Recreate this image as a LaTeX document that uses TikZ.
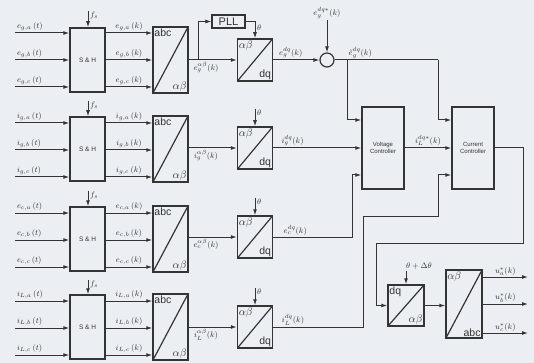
\documentclass[tikz,border=0pt]{standalone}
\usepackage{fontspec}
\setsansfont{Liberation Sans}
\usetikzlibrary{positioning,calc,arrows.meta}
\definecolor{paper}{RGB}{235,239,243}
\definecolor{ink}{RGB}{52,52,52}
\tikzset{
  sig/.style={draw=ink, line width=1pt, ->, >={Latex[length=6pt,width=4pt]}},
  wire/.style={draw=ink, line width=1pt},
  shbox/.style={draw=ink, line width=1.5pt, minimum width=35pt, minimum height=64pt, inner sep=0pt, text=ink, font=\fontsize{6.5}{7}\sffamily},
  conv/.style={draw=ink, line width=1.5pt, inner sep=0pt, minimum width=35pt,
    path picture={\draw[ink, line width=1.2pt] (path picture bounding box.south west) -- (path picture bounding box.north east);}},
  corner/.style={inner sep=2pt, text=ink, font=\fontsize{10.5}{12}\sffamily},
  lbl/.style={inner sep=1.5pt, text=ink, font=\fontsize{8.5}{10}\selectfont},
  ctrl/.style={draw=ink, line width=1.5pt, minimum width=42pt, minimum height=82pt, align=center, text=ink, font=\fontsize{6}{7.5}\sffamily},
}
\begin{document}
\begin{tikzpicture}[x=1pt,y=-1pt]
    \fill[paper] (0,0) rectangle (534,363);
    \useasboundingbox (0,0) rectangle (534,363);

    % grid voltage
    \node[shbox] (sh1) at (87.5,60) {S \& H};
    \node[conv, minimum height=66pt] (ab1) at (170.5,60) {};
    \node[corner, anchor=north west] at (ab1.north west) {abc};
    \node[corner, anchor=south east] at (ab1.south east) {$\alpha\beta$};
    \node[conv, minimum height=42pt] (dq1) at (255,60) {};
    \node[corner, anchor=north west] at (dq1.north west) {$\alpha\beta$};
    \node[corner, anchor=south east] at (dq1.south east) {dq};
    \coordinate (in1a) at (15,33);
    \coordinate (in1b) at (15,60);
    \coordinate (in1c) at (15,87);
    \coordinate (fs1) at (88,11);
    \draw[sig] (fs1) -- (fs1 |- sh1.north) node[lbl, pos=0.3, right] {$f_s$};
    \draw[sig] (in1a) -- (in1a -| sh1.west) node[lbl, pos=0, anchor=south west] {$e_{g,a}\,(t)$};
    \draw[sig] (in1b) -- (in1b -| sh1.west) node[lbl, pos=0, anchor=south west] {$e_{g,b}\,(t)$};
    \draw[sig] (in1c) -- (in1c -| sh1.west) node[lbl, pos=0, anchor=south west] {$e_{g,c}\,(t)$};
    \draw[sig] (sh1.east |- in1a) -- (ab1.west |- in1a) node[lbl, midway, above] {$e_{g,a}\,(k)$};
    \draw[sig] (sh1.east |- in1b) -- (ab1.west |- in1b) node[lbl, midway, above] {$e_{g,b}\,(k)$};
    \draw[sig] (sh1.east |- in1c) -- (ab1.west |- in1c) node[lbl, midway, above] {$e_{g,c}\,(k)$};
    \draw[sig] (ab1.east) -- (dq1.west) node[lbl, pos=0.36, below] {$e_g^{\alpha\beta}(k)$};
    \node[draw=ink, line width=1.2pt, minimum width=33pt, minimum height=13pt, inner sep=0pt, text=ink, font=\fontsize{11}{12}\sffamily] (pll) at (228.5,21.5) {PLL};
    \coordinate (br1) at (198,60);
    \draw[sig] (br1) |- (pll.west);
    \draw[sig] (pll.east) -| (dq1.north) node[lbl, pos=0.7, right] {$\theta$};
    \node[draw=ink, line width=1.2pt, circle, minimum size=14pt, inner sep=0pt] (sum) at (327,60) {};
    \node[lbl] (ref) at (327,13) {$e_g^{dq*}(k)$};
    \draw[sig] (ref) -- (sum);
    \draw[sig] (dq1.east) -- (sum.west) node[lbl, pos=0.38, above] {$e_g^{dq}(k)$};

    % grid current
    \node[shbox] (sh2) at (87.5,149) {S \& H};
    \node[conv, minimum height=66pt] (ab2) at (170.5,149) {};
    \node[corner, anchor=north west] at (ab2.north west) {abc};
    \node[corner, anchor=south east] at (ab2.south east) {$\alpha\beta$};
    \node[conv, minimum height=42pt] (dq2) at (255,148) {};
    \node[corner, anchor=north west] at (dq2.north west) {$\alpha\beta$};
    \node[corner, anchor=south east] at (dq2.south east) {dq};
    \coordinate (in2a) at (15,123);
    \coordinate (in2b) at (15,150);
    \coordinate (in2c) at (15,177);
    \coordinate (fs2) at (88,101);
    \draw[sig] (fs2) -- (fs2 |- sh2.north) node[lbl, pos=0.3, right] {$f_s$};
    \draw[sig] (in2a) -- (in2a -| sh2.west) node[lbl, pos=0, anchor=south west] {$i_{g,a}\,(t)$};
    \draw[sig] (in2b) -- (in2b -| sh2.west) node[lbl, pos=0, anchor=south west] {$i_{g,b}\,(t)$};
    \draw[sig] (in2c) -- (in2c -| sh2.west) node[lbl, pos=0, anchor=south west] {$i_{g,c}\,(t)$};
    \draw[sig] (sh2.east |- in2a) -- (ab2.west |- in2a) node[lbl, midway, above] {$i_{g,a}\,(k)$};
    \draw[sig] (sh2.east |- in2b) -- (ab2.west |- in2b) node[lbl, midway, above] {$i_{g,b}\,(k)$};
    \draw[sig] (sh2.east |- in2c) -- (ab2.west |- in2c) node[lbl, midway, above] {$i_{g,c}\,(k)$};
    \draw[sig] (ab2.east |- dq2.west) -- (dq2.west) node[lbl, pos=0.36, below] {$i_g^{\alpha\beta}(k)$};
    \coordinate (th2) at (255,109);
    \draw[sig] (th2) -- (dq2.north) node[lbl, pos=0.2, right] {$\theta$};

    % capacitor voltage
    \node[shbox] (sh3) at (87.5,239) {S \& H};
    \node[conv, minimum height=66pt] (ab3) at (170.5,239) {};
    \node[corner, anchor=north west] at (ab3.north west) {abc};
    \node[corner, anchor=south east] at (ab3.south east) {$\alpha\beta$};
    \node[conv, minimum height=42pt] (dq3) at (255,237) {};
    \node[corner, anchor=north west] at (dq3.north west) {$\alpha\beta$};
    \node[corner, anchor=south east] at (dq3.south east) {dq};
    \coordinate (in3a) at (15,213);
    \coordinate (in3b) at (15,240);
    \coordinate (in3c) at (15,267);
    \coordinate (fs3) at (88,191);
    \draw[sig] (fs3) -- (fs3 |- sh3.north) node[lbl, pos=0.3, right] {$f_s$};
    \draw[sig] (in3a) -- (in3a -| sh3.west) node[lbl, pos=0, anchor=south west] {$e_{c,a}\,(t)$};
    \draw[sig] (in3b) -- (in3b -| sh3.west) node[lbl, pos=0, anchor=south west] {$e_{c,b}\,(t)$};
    \draw[sig] (in3c) -- (in3c -| sh3.west) node[lbl, pos=0, anchor=south west] {$e_{c,c}\,(t)$};
    \draw[sig] (sh3.east |- in3a) -- (ab3.west |- in3a) node[lbl, midway, above] {$e_{c,a}\,(k)$};
    \draw[sig] (sh3.east |- in3b) -- (ab3.west |- in3b) node[lbl, midway, above] {$e_{c,b}\,(k)$};
    \draw[sig] (sh3.east |- in3c) -- (ab3.west |- in3c) node[lbl, midway, above] {$e_{c,c}\,(k)$};
    \draw[sig] (ab3.east |- dq3.west) -- (dq3.west) node[lbl, pos=0.36, below] {$e_c^{\alpha\beta}(k)$};
    \coordinate (th3) at (255,198);
    \draw[sig] (th3) -- (dq3.north) node[lbl, pos=0.2, right] {$\theta$};

    % inductor current
    \node[shbox] (sh4) at (87.5,327) {S \& H};
    \node[conv, minimum height=66pt] (ab4) at (170.5,327) {};
    \node[corner, anchor=north west] at (ab4.north west) {abc};
    \node[corner, anchor=south east] at (ab4.south east) {$\alpha\beta$};
    \node[conv, minimum height=42pt] (dq4) at (255,327) {};
    \node[corner, anchor=north west] at (dq4.north west) {$\alpha\beta$};
    \node[corner, anchor=south east] at (dq4.south east) {dq};
    \coordinate (in4a) at (15,301);
    \coordinate (in4b) at (15,328);
    \coordinate (in4c) at (15,355);
    \coordinate (fs4) at (88,280);
    \draw[sig] (fs4) -- (fs4 |- sh4.north) node[lbl, pos=0.3, right] {$f_s$};
    \draw[sig] (in4a) -- (in4a -| sh4.west) node[lbl, pos=0, anchor=south west] {$i_{L,a}\,(t)$};
    \draw[sig] (in4b) -- (in4b -| sh4.west) node[lbl, pos=0, anchor=south west] {$i_{L,b}\,(t)$};
    \draw[sig] (in4c) -- (in4c -| sh4.west) node[lbl, pos=0, anchor=south west] {$i_{L,c}\,(t)$};
    \draw[sig] (sh4.east |- in4a) -- (ab4.west |- in4a) node[lbl, midway, above] {$i_{L,a}\,(k)$};
    \draw[sig] (sh4.east |- in4b) -- (ab4.west |- in4b) node[lbl, midway, above] {$i_{L,b}\,(k)$};
    \draw[sig] (sh4.east |- in4c) -- (ab4.west |- in4c) node[lbl, midway, above] {$i_{L,c}\,(k)$};
    \draw[sig] (ab4.east |- dq4.west) -- (dq4.west) node[lbl, pos=0.36, below] {$i_L^{\alpha\beta}(k)$};
    \coordinate (th4) at (255,288);
    \draw[sig] (th4) -- (dq4.north) node[lbl, pos=0.2, right] {$\theta$};

    % controllers
    \node[ctrl] (vc) at (383,148) {Voltage\\Controller};
    \node[ctrl] (cc) at (473,148) {Current\\Controller};
    \coordinate (j1) at (347,60);
    \coordinate (j2) at (438,60);
    \draw[wire] (sum.east) -- (j2);
    \node[lbl, anchor=south west] at (j1) {$\tilde{e}_g^{dq}(k)$};
    \draw[sig] (j1) |- ($(vc.west)+(0,-28)$);
    \draw[sig] (j2) |- ($(cc.west)+(0,-28)$);
    \draw[sig] (dq2.east) -- (dq2.east -| vc.west) node[lbl, pos=0.22, above] {$i_g^{dq}(k)$};
    \draw[sig] (vc.east) -- (cc.west) node[lbl, midway, above] {$i_L^{dq*}(k)$};
    \coordinate (j3) at (352,237);
    \draw[sig] (dq3.east) -- (j3) |- ($(vc.west)+(0,27)$);
    \node[lbl, above] at ($(dq3.east)!0.28!(j3)$) {$e_c^{dq}(k)$};
    \coordinate (j4) at (363,327);
    \coordinate (j5) at (438,216);
    \draw[sig] (dq4.east) -- (j4) |- (j5) |- ($(cc.west)+(0,27)$);
    \node[lbl, above] at ($(dq4.east)!0.22!(j4)$) {$i_L^{dq}(k)$};

    % output transformation
    \node[conv, minimum width=36pt, minimum height=41pt] (dqo) at (406,305.5) {};
    \node[corner, anchor=north west] at (dqo.north west) {dq};
    \node[corner, anchor=south east] at (dqo.south east) {$\alpha\beta$};
    \node[conv, minimum width=36pt, minimum height=68pt] (abo) at (464,304) {};
    \node[corner, anchor=north west] at (abo.north west) {$\alpha\beta$};
    \node[corner, anchor=south east] at (abo.south east) {abc};
    \coordinate (k1) at (523,243);
    \coordinate (k2) at (376,243);
    \draw[sig] (cc.east) -| (k1) -- (k2) |- (dqo.west);
    \node[lbl] (thd) at (419,266) {$\theta+\Delta\theta$};
    \draw[sig] (dqo.north |- thd.south) -- (dqo.north);
    \draw[sig] (dqo.east) -- (dqo.east -| abo.west);
    \coordinate (oa) at (528,277);
    \coordinate (ob) at (528,304);
    \coordinate (oc) at (528,333);
    \draw[sig] (abo.east |- oa) -- (oa) node[lbl, midway, above] {$u_a^*(k)$};
    \draw[sig] (abo.east |- ob) -- (ob) node[lbl, midway, above] {$u_b^*(k)$};
    \draw[sig] (abo.east |- oc) -- (oc) node[lbl, midway, above] {$u_c^*(k)$};
\end{tikzpicture}
\end{document}
